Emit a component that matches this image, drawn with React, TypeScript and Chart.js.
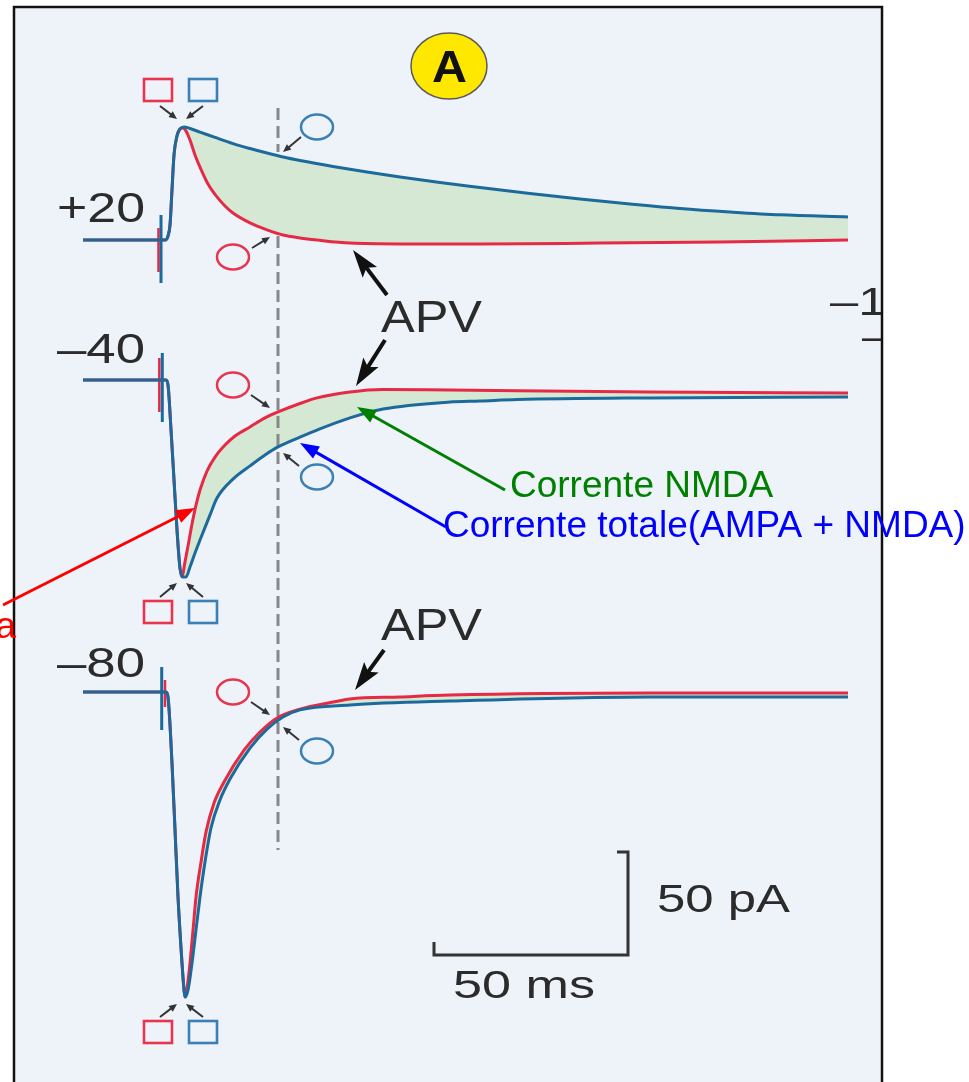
import React, { useEffect, useRef } from 'react';
import { Chart, registerables } from 'chart.js';

Chart.register(...registerables);

type P = [number, number];

// ---- scales (time in ms, current in pA) ----
const X_MIN = -41.24;
const X_MAX = 208.51;
const Y_MIN = 0;
const Y_MAX = 525.24;

// ---- holding potentials and the vertical position of each trace's baseline (pA) ----
const voltageLabels = ['+20', '\u201340', '\u201380'];
const traceOffsets = [408.74, 340.78, 189.32];

// ---- +20 mV : total current (AMPA + NMDA) and current in APV (AMPA) ----
const totalPlus20: P[] = [
  [-19.85, 0], [1.29, 0], [2.06, 1.9], [2.58, 7.3], [3.09, 24.3], [3.61, 41.3], [4.38, 50.5],
  [5.15, 53.9], [6.19, 54.9], [7.73, 54.1], [10.31, 52.4], [14.18, 49.8], [18.81, 46.8],
  [23.2, 44.4], [27.58, 42.2], [31.7, 40.3], [36.08, 38.6], [44.59, 35.7], [53.35, 33.0],
  [61.86, 30.6], [72.16, 27.9], [82.47, 25.5], [95.36, 22.6], [108.25, 19.9], [121.13, 17.5],
  [134.02, 15.3], [146.91, 13.6], [159.79, 12.2], [177.32, 11.2],
];
const apvPlus20: P[] = [
  [-19.85, 0], [1.29, 0], [2.06, 1.9], [2.58, 7.3], [3.09, 24.3], [3.61, 41.3], [4.38, 50.5],
  [5.15, 53.9], [5.93, 54.4], [6.7, 52.9], [7.73, 48.5], [9.02, 41.3], [10.31, 35.4],
  [12.37, 27.2], [14.69, 20.9], [16.75, 16.5], [18.81, 13.1], [23.2, 8.3], [27.58, 4.9],
  [31.7, 2.4], [36.08, 1.0], [40.46, 0], [48.97, -1.5], [61.86, -1.9], [82.47, -1.9],
  [113.4, -1.5], [144.33, -1.0], [177.32, 0],
];

// ---- -40 mV ----
const totalMinus40: P[] = [
  [-19.85, 0], [1.55, 0], [2.06, -2.4], [2.84, -24.3], [3.61, -48.5], [4.38, -72.8],
  [5.15, -91.3], [5.93, -95.6], [6.7, -95.6], [7.73, -90.8], [9.02, -84.0], [10.31, -77.7],
  [12.89, -65.5], [14.69, -57.3], [18.81, -48.1], [23.2, -41.7], [27.06, -36.4],
  [30.41, -32.5], [36.08, -27.7], [40.46, -24.3], [48.97, -18.4], [57.47, -14.1],
  [74.74, -10.7], [82.47, -10.2], [92.01, -9.5], [126.29, -8.7], [177.32, -8.3],
];
const apvMinus40: P[] = [
  [-19.85, 0], [1.55, 0], [2.06, -2.4], [2.84, -24.3], [3.61, -48.5], [4.38, -72.8],
  [5.15, -91.3], [5.67, -95.6], [6.44, -88.3], [7.22, -80.6], [8.25, -69.9], [9.28, -60.7],
  [10.31, -53.4], [12.11, -44.2], [14.18, -37.4], [16.75, -31.6], [19.33, -27.2],
  [23.2, -22.8], [27.06, -18.4], [30.41, -15.5], [36.08, -11.4], [40.46, -8.7],
  [48.97, -5.8], [57.47, -4.6], [74.74, -4.9], [126.29, -5.8], [177.32, -6.3],
];

// ---- -80 mV ----
const totalMinus80: P[] = [
  [-19.85, 0], [1.55, 0], [2.06, -2.4], [3.09, -34.5], [3.87, -67.0], [4.64, -99.5],
  [5.67, -131.6], [6.19, -144.7], [6.44, -148.1], [7.22, -144.7], [8.25, -131.6],
  [9.28, -115.5], [10.31, -99.5], [11.6, -82.5], [13.14, -66.0], [15.46, -52.4],
  [18.04, -42.2], [23.2, -27.2], [27.58, -18.0], [31.7, -12.1], [36.08, -8.7],
  [48.97, -6.3], [74.74, -4.4], [126.29, -2.4], [177.32, -2.4],
];
const apvMinus80: P[] = [
  [-19.85, 0], [1.55, 0], [2.06, -2.4], [3.09, -34.5], [3.87, -67.0], [4.64, -99.5],
  [5.67, -131.6], [6.19, -144.7], [6.44, -148.1], [6.96, -143.7], [7.73, -131.6],
  [8.51, -115.5], [9.28, -99.5], [10.57, -82.5], [11.86, -67.9], [13.92, -53.9],
  [16.49, -43.7], [21.65, -28.2], [25.77, -19.4], [30.15, -12.6], [36.08, -8.3],
  [44.59, -4.9], [48.97, -3.4], [61.86, -2.4], [74.74, -1.5], [126.29, -0.5], [177.32, -0.5],
];

// ---- stimulus artifacts ----
const artifactTotal: P[][] = [
  [[0.26, 12.1], [0.26, -20.9]],
  [[0.59, 13.1], [0.59, -20.4]],
  [[0.44, 12.1], [0.44, -18.4]],
];
const artifactApv: P[][] = [
  [[-0.39, 5.8], [-0.39, -15.5]],
  [[-0.18, 10.7], [-0.18, -15.5]],
  [[1.29, 5.8], [1.29, -7.3]],
];

// ---- dashed reference time and its vertical extents (pA) ----
const markerTime = 30.41;
const markerExtents = [472.82, 451.46, 410.68, 112.62];

// ---- scale bar ----
const scaleBarMs = 50;
const scaleBarPA = 50;
const scaleBarCorner: P = [120.62, 61.65];

const BLUE = '#1c6a9c';
const RED = '#e62a45';
const FILL = '#d5e8d4';
const PANEL = '#eef3fa';
const MK_RED = '#e6354d';
const MK_BLUE = '#3a80b6';
const LABEL = '#2b2b2b';
const FONT = '"Liberation Sans", Arial, Helvetica, sans-serif';

const toPts = (arr: P[], off: number) => arr.map(([t, v]) => ({ x: t, y: off + v }));

function fitText(ctx: CanvasRenderingContext2D, text: string, x: number, y: number, width: number, size: number, color: string, bold = false) {
  ctx.save();
  ctx.font = `${bold ? 'bold ' : ''}${size}px ${FONT}`;
  ctx.fillStyle = color;
  ctx.textBaseline = 'alphabetic';
  ctx.textAlign = 'left';
  const w = ctx.measureText(text).width;
  ctx.translate(x, y);
  ctx.scale(width / w, 1);
  ctx.fillText(text, 0, 0);
  ctx.restore();
}

function stretchText(ctx: CanvasRenderingContext2D, text: string, x: number, y: number, sx: number, size: number, color: string) {
  ctx.save();
  ctx.font = `${size}px ${FONT}`;
  ctx.fillStyle = color;
  ctx.textBaseline = 'alphabetic';
  ctx.textAlign = 'left';
  ctx.translate(x, y);
  ctx.scale(sx, 1);
  ctx.fillText(text, 0, 0);
  ctx.restore();
}

function plainText(ctx: CanvasRenderingContext2D, text: string, x: number, y: number, size: number, color: string, align: CanvasTextAlign = 'left') {
  ctx.save();
  ctx.font = `${size}px ${FONT}`;
  ctx.fillStyle = color;
  ctx.textBaseline = 'alphabetic';
  ctx.textAlign = align;
  ctx.fillText(text, x, y);
  ctx.restore();
}

function arrow(ctx: CanvasRenderingContext2D, x1: number, y1: number, x2: number, y2: number, color: string, lw: number, hl: number, hw: number, notch = 0) {
  const a = Math.atan2(y2 - y1, x2 - x1);
  const c = Math.cos(a);
  const s = Math.sin(a);
  const bx = x2 - c * hl;
  const by = y2 - s * hl;
  ctx.save();
  ctx.strokeStyle = color;
  ctx.fillStyle = color;
  ctx.lineWidth = lw;
  ctx.lineCap = 'butt';
  ctx.beginPath();
  ctx.moveTo(x1, y1);
  ctx.lineTo(bx + c * hl * 0.3, by + s * hl * 0.3);
  ctx.stroke();
  ctx.beginPath();
  ctx.moveTo(x2, y2);
  ctx.lineTo(bx - s * hw / 2, by + c * hw / 2);
  ctx.lineTo(bx + c * hl * notch, by + s * hl * notch);
  ctx.lineTo(bx + s * hw / 2, by - c * hw / 2);
  ctx.closePath();
  ctx.fill();
  ctx.restore();
}

function ellipse(ctx: CanvasRenderingContext2D, cx: number, cy: number, rx: number, ry: number, color: string) {
  ctx.save();
  ctx.strokeStyle = color;
  ctx.lineWidth = 2.5;
  ctx.beginPath();
  ctx.ellipse(cx, cy, rx, ry, 0, 0, Math.PI * 2);
  ctx.stroke();
  ctx.restore();
}

function square(ctx: CanvasRenderingContext2D, x: number, y: number, w: number, h: number, color: string) {
  ctx.save();
  ctx.strokeStyle = color;
  ctx.lineWidth = 2.6;
  ctx.strokeRect(x, y, w, h);
  ctx.restore();
}

const panelPlugin = {
  id: 'panel',
  beforeDraw(chart: any) {
    const { ctx, width, height } = chart;
    ctx.save();
    ctx.fillStyle = '#ffffff';
    ctx.fillRect(0, 0, width, height);
    ctx.fillStyle = PANEL;
    ctx.fillRect(14, 7, 868, height - 7);
    ctx.strokeStyle = '#111111';
    ctx.lineWidth = 2.5;
    ctx.beginPath();
    ctx.moveTo(14, height);
    ctx.lineTo(14, 7);
    ctx.lineTo(882, 7);
    ctx.lineTo(882, height);
    ctx.stroke();
    ctx.restore();
  },
};

const annotationPlugin = {
  id: 'annotations',
  afterDatasetsDraw(chart: any) {
    const ctx: CanvasRenderingContext2D = chart.ctx;
    const gray = '#333333';

    // voltage labels
    const labelBase = [222, 363, 677];
    voltageLabels.forEach((t, i) => fitText(ctx, t, 57, labelBase[i], 88, 42, LABEL));

    // square markers (peaks)
    const sqY = [79, 601, 1021];
    const sqArrow = [[106, 119], [597, 583], [1017, 1004]];
    sqY.forEach((y, i) => {
      square(ctx, 144, y, 28, 22, MK_RED);
      square(ctx, 189, y, 28, 22, MK_BLUE);
      const [a, b] = sqArrow[i];
      arrow(ctx, 160, a, 177, b, gray, 2, 8, 7);
      arrow(ctx, 203, a, 186, b, gray, 2, 8, 7);
    });

    // circle markers (at the dashed time)
    ellipse(ctx, 317, 127, 16, 12.5, MK_BLUE);
    arrow(ctx, 301, 137, 283, 152, gray, 2, 8, 7);
    ellipse(ctx, 233, 257, 16, 12.5, MK_RED);
    arrow(ctx, 252, 248, 270, 237, gray, 2, 8, 7);

    ellipse(ctx, 233, 385, 16, 12.5, MK_RED);
    arrow(ctx, 251, 395, 270, 408, gray, 2, 8, 7);
    ellipse(ctx, 317, 477, 16, 12.5, MK_BLUE);
    arrow(ctx, 299, 466, 283, 453, gray, 2, 8, 7);

    ellipse(ctx, 233, 692, 16, 12.5, MK_RED);
    arrow(ctx, 251, 702, 270, 715, gray, 2, 8, 7);
    ellipse(ctx, 317, 751, 16, 12.5, MK_BLUE);
    arrow(ctx, 299, 740, 283, 727, gray, 2, 8, 7);

    // APV labels and arrows
    fitText(ctx, 'APV', 381, 332, 101, 44, LABEL);
    arrow(ctx, 387, 295, 353, 250, '#111', 4, 28, 18, 0.2);
    arrow(ctx, 385, 340, 356, 386, '#111', 4, 28, 18, 0.2);
    fitText(ctx, 'APV', 381, 640, 101, 44, LABEL);
    arrow(ctx, 384, 650, 355, 690, '#111', 4, 28, 18, 0.2);

    // coloured annotations
    arrow(ctx, 505, 490, 357, 407, '#008000', 3, 19, 14);
    plainText(ctx, 'Corrente NMDA', 510, 497, 37, '#008000');
    arrow(ctx, 446, 527, 300, 443, '#0000ff', 3, 19, 14);
    plainText(ctx, 'Corrente totale(AMPA + NMDA)', 443, 537, 37, '#0000ff');
    arrow(ctx, 3, 605, 195, 508, '#ff0000', 3, 19, 14);
    plainText(ctx, 'a', 16, 638, 37, '#ff0000', 'right');

    // yellow "A" badge
    ctx.save();
    ctx.fillStyle = '#ffe800';
    ctx.strokeStyle = '#5a5a5a';
    ctx.lineWidth = 1.5;
    ctx.beginPath();
    ctx.ellipse(449, 66, 38, 33, 0, 0, Math.PI * 2);
    ctx.fill();
    ctx.stroke();
    ctx.restore();
    fitText(ctx, 'A', 432, 82, 35, 44, '#111', true);

    // scale bar labels
    fitText(ctx, '50 pA', 657, 912, 133, 38, LABEL);
    fitText(ctx, '50 ms', 453, 998, 142, 38, LABEL);

    // labels of the neighbouring panel, clipped at the frame
    ctx.save();
    ctx.beginPath();
    ctx.rect(14, 7, 867, 1075);
    ctx.clip();
    stretchText(ctx, '\u20131', 830, 315, 1.3, 39, LABEL);
    stretchText(ctx, '\u2013', 862, 350, 1.3, 39, LABEL);
    ctx.restore();
  },
};

const traceStyle = {
  pointRadius: 0,
  borderWidth: 3,
  cubicInterpolationMode: 'monotone' as const,
};

export default function App() {
  const ref = useRef<HTMLCanvasElement | null>(null);

  useEffect(() => {
    document.body.style.margin = '0';
    document.body.style.overflow = 'hidden';
    const canvas = ref.current;
    if (!canvas) return;

    const totals = [totalPlus20, totalMinus40, totalMinus80];
    const apvs = [apvPlus20, apvMinus40, apvMinus80];
    const datasets: any[] = [];
    totals.forEach((tot, i) => {
      const blueIndex = datasets.length;
      datasets.push({
        label: `Totale ${voltageLabels[i]}`,
        data: toPts(tot, traceOffsets[i]),
        borderColor: BLUE,
        backgroundColor: BLUE,
        fill: false,
        order: 2,
        ...traceStyle,
      });
      datasets.push({
        label: `APV ${voltageLabels[i]}`,
        data: toPts(apvs[i], traceOffsets[i]),
        borderColor: RED,
        backgroundColor: FILL,
        fill: blueIndex,
        order: 5,
        ...traceStyle,
      });
    });
    artifactTotal.forEach((a, i) => {
      datasets.push({ label: `art-t${i}`, data: toPts(a, traceOffsets[i]), borderColor: BLUE, borderWidth: 3, pointRadius: 0, fill: false, order: 2, tension: 0 });
    });
    artifactApv.forEach((a, i) => {
      datasets.push({ label: `art-a${i}`, data: toPts(a, traceOffsets[i]), borderColor: RED, borderWidth: 2.5, pointRadius: 0, fill: false, order: 6, tension: 0 });
    });
    datasets.push({
      label: 'marker',
      data: [
        { x: markerTime, y: markerExtents[0] },
        { x: markerTime, y: markerExtents[1] },
        { x: markerTime, y: null },
        { x: markerTime, y: markerExtents[2] },
        { x: markerTime, y: markerExtents[3] },
      ],
      borderColor: '#888888',
      borderWidth: 3,
      borderDash: [12, 6],
      pointRadius: 0,
      fill: false,
      spanGaps: false,
      order: 10,
      tension: 0,
    });
    const [cx, cy] = scaleBarCorner;
    datasets.push({
      label: 'scalebar',
      data: [
        { x: cx - scaleBarMs, y: cy + 6.3 },
        { x: cx - scaleBarMs, y: cy },
        { x: cx, y: cy },
        { x: cx, y: cy + scaleBarPA },
        { x: cx - 2.84, y: cy + scaleBarPA },
      ],
      borderColor: '#333333',
      borderWidth: 3,
      pointRadius: 0,
      fill: false,
      order: 0,
      tension: 0,
      borderJoinStyle: 'miter',
    });

    const chart = new Chart(canvas, {
      type: 'line',
      data: { datasets },
      options: {
        animation: false,
        responsive: false,
        devicePixelRatio: 1,
        layout: { padding: 0 },
        scales: {
          x: { type: 'linear', min: X_MIN, max: X_MAX, display: false },
          y: { type: 'linear', min: Y_MIN, max: Y_MAX, display: false },
        },
        plugins: {
          legend: { display: false },
          tooltip: { enabled: false },
          filler: { propagate: false, drawTime: 'beforeDatasetsDraw' },
        },
        events: [],
      } as any,
      plugins: [panelPlugin, annotationPlugin],
    });
    return () => chart.destroy();
  }, []);

  return (
    <div style={{ position: 'relative', width: 969, height: 1082 }}>
      <canvas ref={ref} width={969} height={1082} style={{ display: 'block', width: 969, height: 1082 }} />
    </div>
  );
}
